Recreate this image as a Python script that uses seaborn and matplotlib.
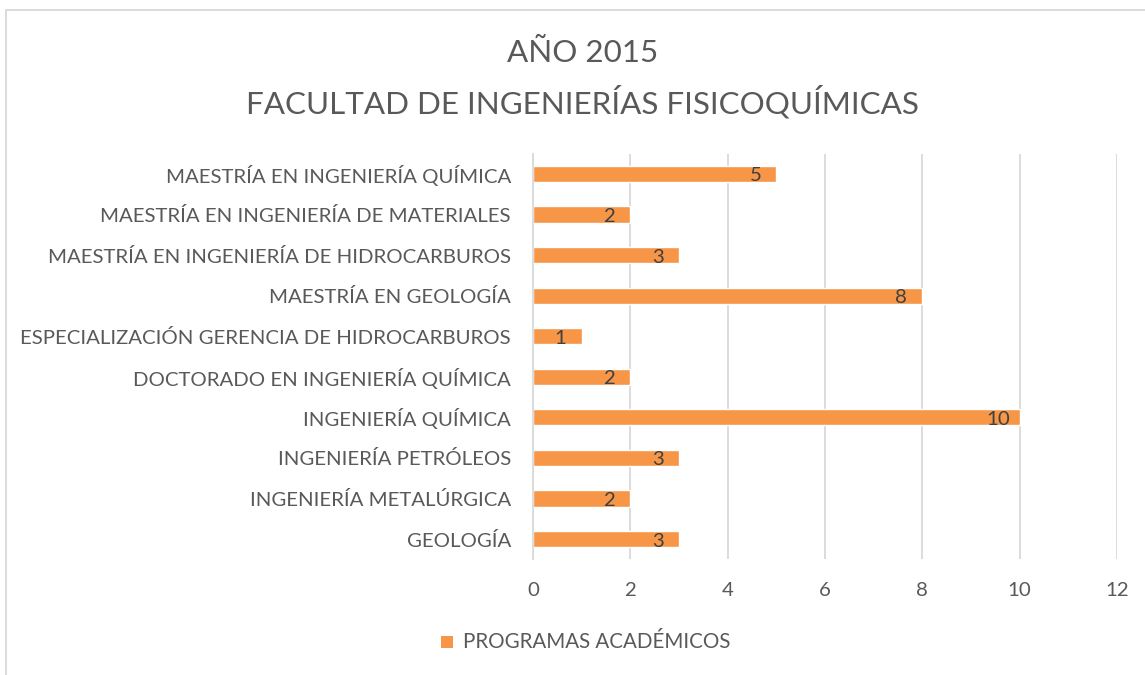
import matplotlib
matplotlib.use("Agg")
import matplotlib.pyplot as plt
import seaborn as sns
import pandas as pd
from matplotlib.patches import Rectangle

categories = [
    "MAESTRÍA EN INGENIERÍA QUÍMICA",
    "MAESTRÍA EN INGENIERÍA DE MATERIALES",
    "MAESTRÍA EN INGENIERÍA DE HIDROCARBUROS",
    "MAESTRÍA EN GEOLOGÍA",
    "ESPECIALIZACIÓN GERENCIA DE HIDROCARBUROS",
    "DOCTORADO EN INGENIERÍA QUÍMICA",
    "INGENIERÍA QUÍMICA",
    "INGENIERÍA PETRÓLEOS",
    "INGENIERÍA METALÚRGICA",
    "GEOLOGÍA",
]
values = [5, 2, 3, 8, 1, 2, 10, 3, 2, 3]
series_name = "PROGRAMAS ACADÉMICOS"
title_lines = ["AÑO 2015", "FACULTAD DE INGENIERÍAS FISICOQUÍMICAS"]
x_ticks = [0, 2, 4, 6, 8, 10, 12]

sns.set_theme(style="white")
plt.rcParams['font.family'] = ['Lato', 'DejaVu Sans']

BAR = "#F79646"
TXT = "#595959"
GRID = "#D9D9D9"

df = pd.DataFrame({"cat": categories, "val": values})

fig = plt.figure(figsize=(11.45, 6.75), dpi=100)
ax = fig.add_axes([0.4655, 0.1714, 0.51, 0.6009])

sns.barplot(data=df, x="val", y="cat", color=BAR, saturation=1, width=0.4, ax=ax, orient="h")

ax.set_xlim(0, 12)
ax.set_xticks(x_ticks)
ax.set_xticklabels([str(t) for t in x_ticks])
ax.set_xlabel("")
ax.set_ylabel("")
ax.xaxis.grid(True, color=GRID, linewidth=1.3)
ax.set_axisbelow(True)
for s in ["top", "right", "bottom"]:
    ax.spines[s].set_visible(False)
ax.spines["left"].set_color(GRID)
ax.spines["left"].set_linewidth(1.3)
ax.tick_params(axis="both", length=0, labelsize=14.7, colors=TXT)
ax.tick_params(axis="x", pad=16)
ax.tick_params(axis="y", pad=16)

for i, v in enumerate(values):
    ax.annotate(str(v), xy=(v, i), xytext=(-21, -2), textcoords="offset pixels",
                ha="center", va="center", fontsize=14.7, color="#404040")

# title
fig.text(0.509, 0.921, title_lines[0], ha="center", va="center", fontsize=22.6, color=TXT)
fig.text(0.509, 0.849, title_lines[1], ha="center", va="center", fontsize=22.6, color=TXT)

# legend
fig.patches.append(Rectangle((441/1145, 1 - 648/675), 12/1145, 12/675, transform=fig.transFigure,
                             facecolor=BAR, edgecolor="none"))
fig.text(463/1145, 1 - 642/675, series_name, ha="left", va="center", fontsize=14.8, color=TXT)

# chart border
fig.add_artist(plt.Line2D([6/1145, 6/1145], [0, 1 - 10/675], transform=fig.transFigure, color=GRID, linewidth=1.3))
fig.add_artist(plt.Line2D([6/1145, 1], [1 - 10/675, 1 - 10/675], transform=fig.transFigure, color=GRID, linewidth=1.3))

fig.savefig("out.png", dpi=100)
